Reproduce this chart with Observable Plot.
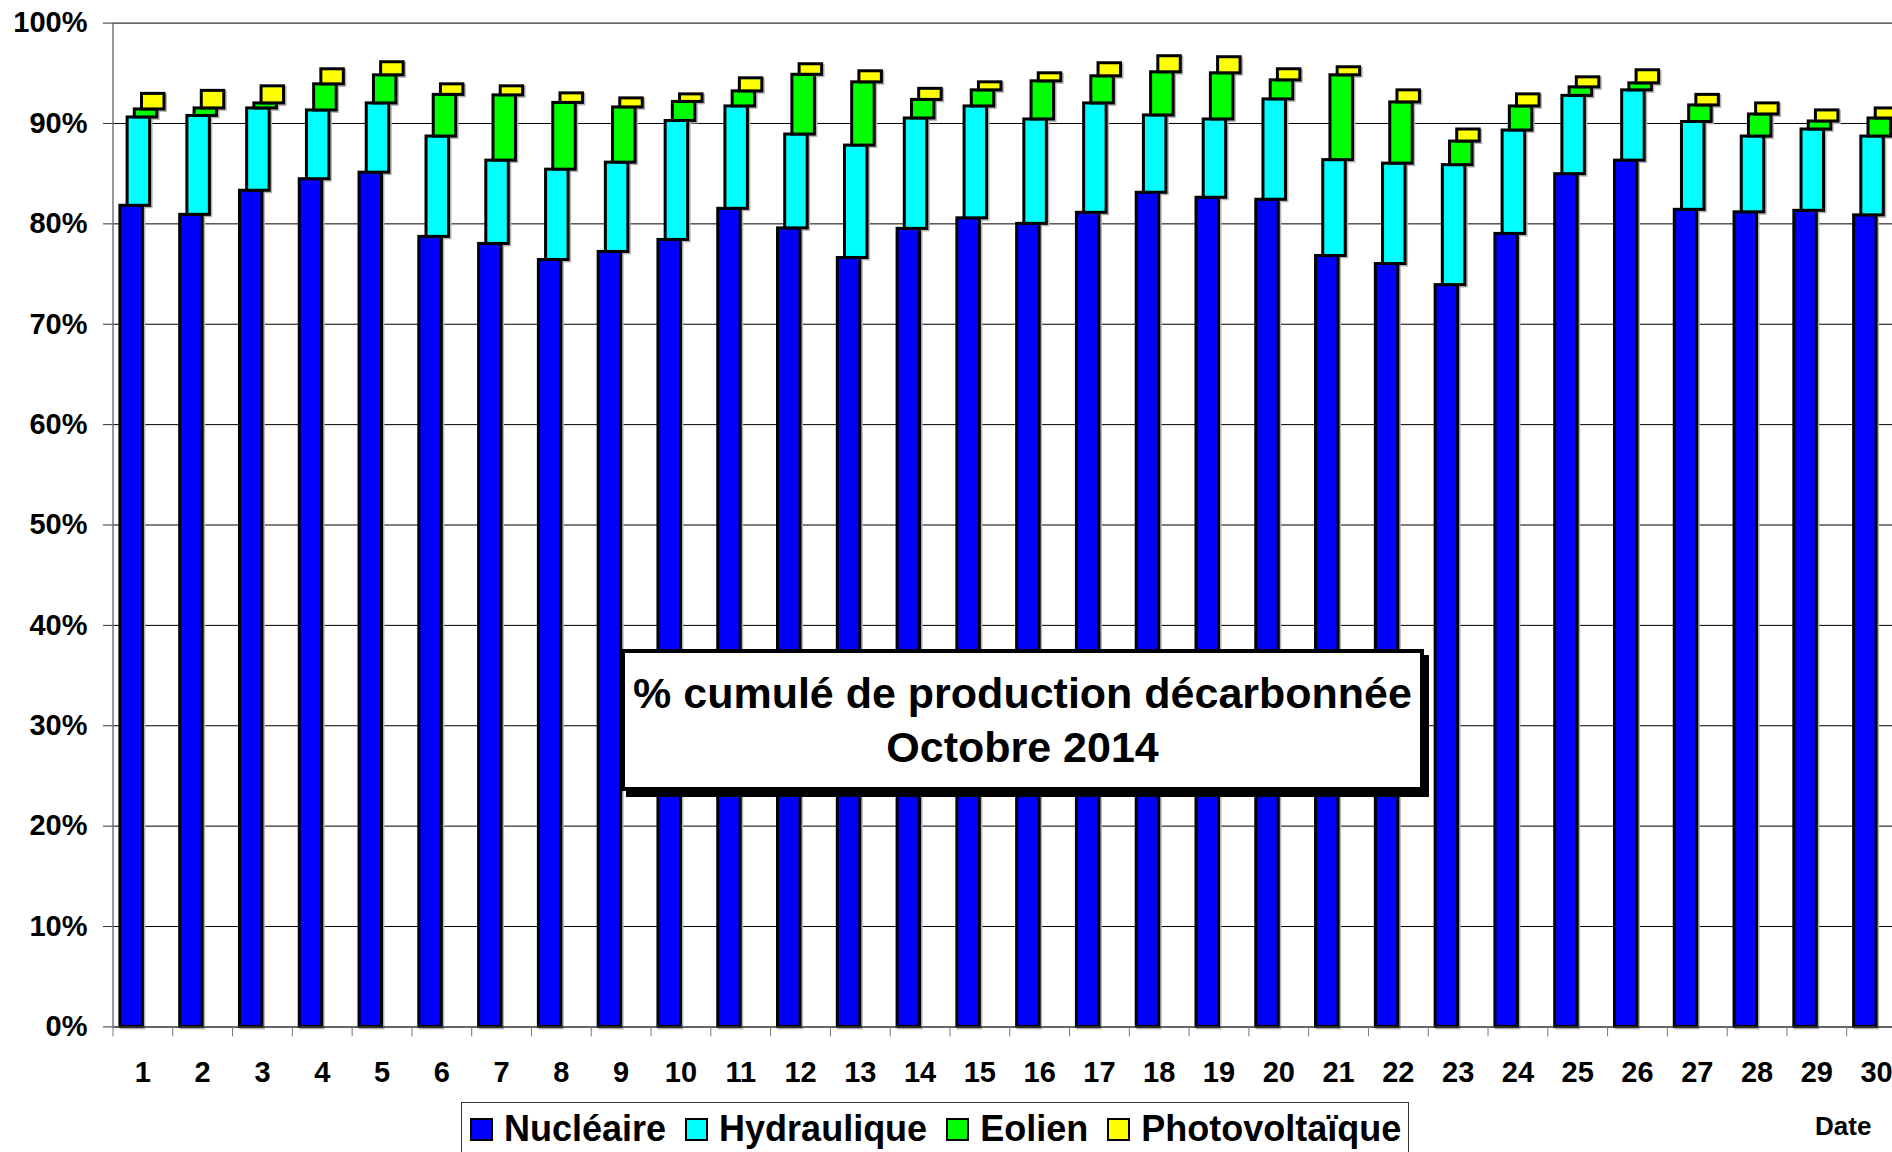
<!DOCTYPE html>
<html>
<head>
<meta charset="utf-8">
<script src="https://cdn.jsdelivr.net/npm/d3@7"></script>
<script src="https://cdn.jsdelivr.net/npm/@observablehq/plot@0.6"></script>
<style>
html, body { margin: 0; padding: 0; background: #fff; }
body { width: 1892px; height: 1152px; overflow: hidden; position: relative;
  font-family: "Liberation Sans", Arial, Helvetica, sans-serif; font-weight: bold; color: #000; }
#chart svg { display: block; max-width: none; }
#titlebox { position: absolute; left: 621px; top: 649px; width: 803px; height: 142px; box-sizing: border-box;
  border: 4px solid #000; background: #fff; box-shadow: 5px 6px 0 #000; text-align: center;
  font-size: 43px; line-height: 54px; padding-top: 13px; z-index: 2; }
#below { position: relative; height: 52px; }
#legend { position: absolute; left: 461px; top: 2px; width: 948px; height: 70px; box-sizing: border-box;
  border: 1.5px solid #333; display: flex; align-items: center; padding-left: 8px; padding-top: 0;
  font-size: 36px; }
#legend .item { display: flex; align-items: center; margin-right: 19px; height: 36px; line-height: 36px; position: relative; top: -8px; }
#legend .sw { width: 23px; height: 23px; box-sizing: border-box; border: 2.5px solid #000; margin-right: 11px; }
#date { position: absolute; left: 1815px; top: 13px; font-size: 26px; line-height: 26px; }
</style>
</head>
<body>
<div id="chart"></div>
<div id="titlebox">% cumulé de production décarbonnée<br>Octobre 2014</div>
<div id="below"><div id="legend"></div><div id="date">Date</div></div>
<script>
// ---- data (percent of production, October 2014) ----
const days = d3.range(1, 31);
const series = ["Nucléaire", "Hydraulique", "Eolien", "Photovoltaïque"];
const colors = ["#0000FF", "#00FFFF", "#00FF00", "#FFFF00"];
const nucleaire = [81.8, 80.9, 83.3, 84.45, 85.1, 78.7, 78.0, 76.4, 77.2, 78.4, 81.5, 79.55, 76.6, 79.5, 80.55, 80.0, 81.1, 83.1, 82.6, 82.4, 76.8, 76.0, 73.9, 79.0, 84.95, 86.3, 81.4, 81.15, 81.3, 80.85];
const hydraulique = [8.8, 9.85, 8.2, 6.85, 6.9, 10.0, 8.3, 9.0, 8.9, 11.85, 10.2, 9.35, 11.2, 11.0, 11.15, 10.4, 10.9, 7.7, 7.8, 10.0, 9.55, 10.0, 11.95, 10.3, 7.8, 7.0, 8.75, 7.55, 8.1, 7.85];
const eolien = [0.8, 0.75, 0.5, 2.6, 2.8, 4.15, 6.5, 6.65, 5.5, 1.9, 1.5, 5.95, 6.3, 1.85, 1.6, 3.8, 2.7, 4.3, 4.6, 1.9, 8.45, 6.1, 2.35, 2.4, 0.85, 0.7, 1.65, 2.2, 0.8, 1.8];
const photovoltaique = [1.55, 1.75, 1.7, 1.5, 1.3, 1.05, 0.9, 0.95, 0.9, 0.75, 1.3, 1.05, 1.1, 1.1, 0.8, 0.8, 1.3, 1.6, 1.6, 1.1, 0.8, 1.2, 1.2, 1.2, 1.0, 1.3, 1.05, 1.1, 1.1, 1.0];
const yTicks = [0, 10, 20, 30, 40, 50, 60, 70, 80, 90, 100];

// ---- build cumulative table ----
const values = [nucleaire, hydraulique, eolien, photovoltaique];
const rows = [];
days.forEach((day, j) => {
  let base = 0;
  values.forEach((arr, i) => {
    rows.push({day, s: i, y1: base, y2: base + arr[j]});
    base += arr[j];
  });
});

const barOpts = (i) => ({
  x1: d => d.day - 0.5, x2: d => d.day + 0.5, y1: "y1", y2: "y2",
  strokeWidth: 3, strokeLinejoin: "miter",
  insetLeft: 7.4 + 7.2 * i, insetRight: 29.9 - 7.2 * i
});
const shadowMarks = series.map((name, i) =>
  Plot.rectY(rows.filter(r => r.s === i), {...barOpts(i), fill: "#b4b4b4", stroke: "#b4b4b4", dx: 1.5, dy: 1.5})
);
const barMarks = series.map((name, i) =>
  Plot.rectY(rows.filter(r => r.s === i), {...barOpts(i), fill: colors[i], stroke: "#000"})
);

const chart = Plot.plot({
  width: 1892, height: 1100,
  marginLeft: 112.5, marginRight: -14, marginTop: 22.6, marginBottom: 73.6,
  style: {fontFamily: "'Liberation Sans', Arial, sans-serif", fontWeight: "bold", background: "#fff", overflow: "hidden"},
  x: {type: "linear", domain: [0.5, 30.5]},
  y: {domain: [0, 100]},
  marks: [
    Plot.ruleY(yTicks.filter(t => t > 0), {stroke: "#000", strokeWidth: 1}),
    Plot.ruleX([0.5], {y1: 0, y2: 100, stroke: "#777", strokeWidth: 1.5}),
    ...shadowMarks,
    ...barMarks,
    Plot.ruleY([0], {stroke: "#333", strokeWidth: 1.5}),
    Plot.axisY({ticks: yTicks, tickFormat: d => d + "%", tickSize: 9.5, tickPadding: 16, fontSize: 29, fontWeight: "bold", label: null, stroke: "#333"}),
    Plot.axisX({ticks: d3.range(0.5, 30.6, 1), tickFormat: () => "", tickSize: 10, label: null, stroke: "#777"}),
    Plot.axisX({ticks: days, tickFormat: d => String(d), tickSize: 0, tickPadding: 35, fontSize: 29, fontWeight: "bold", label: null})
  ]
});
document.getElementById("chart").appendChild(chart);

// ---- legend ----
const legend = d3.select("#legend");
series.forEach((name, i) => {
  const item = legend.append("div").attr("class", "item");
  item.append("div").attr("class", "sw").style("background", colors[i]);
  item.append("span").text(name);
});
</script>
</body>
</html>
